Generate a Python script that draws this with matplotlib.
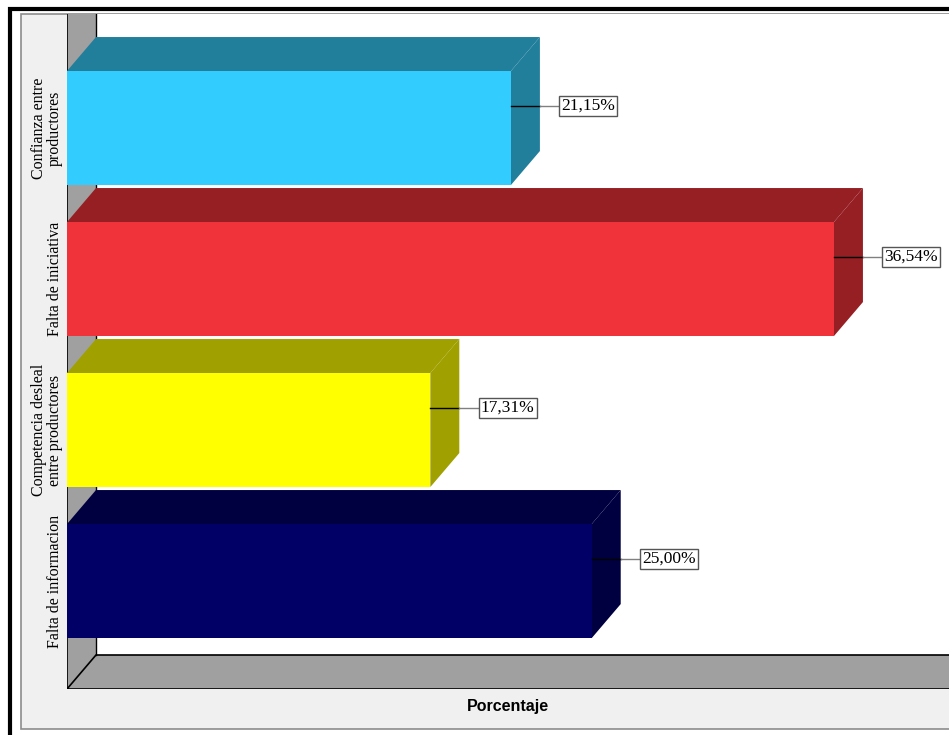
import matplotlib
matplotlib.use("Agg")
import matplotlib.pyplot as plt
from matplotlib.patches import Rectangle, Polygon

# data
categorias = ["Confianza entre\nproductores", "Falta de iniciativa",
              "Competencia desleal\nentre productores", "Falta de informacion"]
valores = [21.15, 36.54, 17.31, 25.00]
etiquetas = ["21,15%", "36,54%", "17,31%", "25,00%"]
frente = ["#33ccff", "#f0323a", "#ffff00", "#000066"]
lados = ["#217f9c", "#961f24", "#a0a000", "#000040"]

W, H = 949, 735
fig = plt.figure(figsize=(W / 100, H / 100), dpi=100)

# outer frame and grey panel (behind the axes)
fig.patches.append(Rectangle((10 / W, -0.1), 1.2, (735 - 9) / H + 0.1, transform=fig.transFigure,
                             facecolor="white", edgecolor="black", lw=3, zorder=-10))
fig.patches.append(Rectangle((21 / W, (735 - 729) / H), 1.2, (729 - 14) / H, transform=fig.transFigure,
                             facecolor="#f0f0f0", edgecolor="#8c8c8c", lw=1.2, zorder=-9))

# plot area in pixels: x 67 -> 949, y 14 -> 689
ax = fig.add_axes([67 / W, (735 - 689) / H, (949 - 67) / W, (689 - 14) / H])
xmax = 42.02
ax.set_xlim(0, xmax)
ytop, ybot = -0.755, 3.715
ax.set_ylim(ybot, ytop)
ax.axis("off")

dx = 1.38      # depth offset in %
dy = 0.225     # depth offset in category units
alto = 0.755   # bar thickness
yfondo = ybot - dy

# walls and floor
ax.add_patch(Rectangle((dx, ytop), xmax, yfondo - ytop, facecolor="white", edgecolor="none", zorder=0.2))
ax.add_patch(Polygon([(0, ytop), (dx, ytop), (dx, yfondo), (0, ybot)], closed=True,
                     facecolor="#a0a0a0", edgecolor="none", zorder=0.2))
ax.add_patch(Polygon([(0, ybot), (xmax + 5, ybot), (xmax + 5, yfondo), (dx, yfondo)], closed=True,
                     facecolor="#a0a0a0", edgecolor="black", lw=1.2, zorder=0.3))
ax.plot([0, 0], [ytop, ybot], color="black", lw=1.2, zorder=0.4)
ax.plot([dx, dx], [ytop, yfondo], color="black", lw=1.0, zorder=0.4)

for i, (v, cf, cl) in enumerate(zip(valores, frente, lados)):
    y0 = i - alto / 2
    y1 = i + alto / 2
    # top face
    ax.add_patch(Polygon([(0, y0), (v, y0), (v + dx, y0 - dy), (dx, y0 - dy)], closed=True,
                         facecolor=cl, edgecolor="none", zorder=1))
    # side face
    ax.add_patch(Polygon([(v, y0), (v + dx, y0 - dy), (v + dx, y1 - dy), (v, y1)], closed=True,
                         facecolor=cl, edgecolor="none", zorder=1))
    # front face
    ax.add_patch(Rectangle((0, y0), v, alto, facecolor=cf, edgecolor="none", zorder=1))

    # value label with leader
    yl = i - 0.146
    xl = v + 2.4
    ax.plot([v, v + dx], [yl, yl], color="black", lw=1.0, zorder=2)
    ax.plot([v + dx, xl], [yl, yl], color="#808080", lw=1.0, zorder=2)
    ax.text(xl, yl, etiquetas[i], ha="left", va="center", fontsize=12.5,
            family="Liberation Serif", color="black", clip_on=False, zorder=3,
            bbox=dict(boxstyle="square,pad=0.12", facecolor="white", edgecolor="#555555", lw=1))

    # category label
    ax.text(-0.2, i, categorias[i], rotation=90, rotation_mode="anchor",
            ha="center", va="bottom", multialignment="center", fontsize=11.5,
            family="Liberation Serif", color="black", linespacing=1.0, clip_on=False)

fig.text(508 / W, 1 - 707 / H, "Porcentaje", ha="center", va="center",
         fontsize=11.5, fontweight="bold", family="Liberation Sans")

fig.savefig("out.png", dpi=100)
